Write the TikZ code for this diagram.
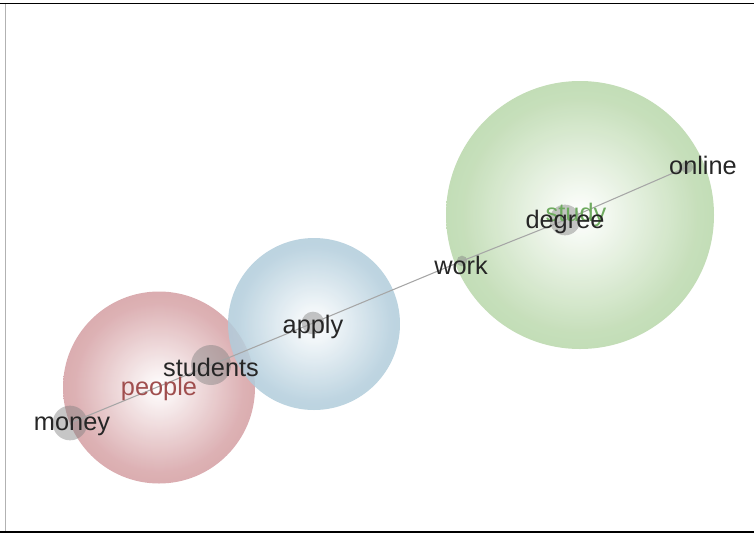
\documentclass[tikz,border=0pt]{standalone}
\usepackage{fontspec}
\setmainfont{Liberation Sans}
\definecolor{peoplered}{RGB}{196,122,127}
\definecolor{applyblue}{RGB}{140,180,202}
\definecolor{studygreen}{RGB}{158,200,138}
\definecolor{peopletext}{RGB}{160,78,78}
\definecolor{studytext}{RGB}{110,170,95}
\pgfdeclareradialshading{peopleball}{\pgfpoint{0bp}{0bp}}{color(0bp)=(white); color(22bp)=(peoplered!65!white); color(50bp)=(peoplered); color(100bp)=(peoplered)}
\pgfdeclareradialshading{applyball}{\pgfpoint{0bp}{0bp}}{color(0bp)=(white); color(22bp)=(applyblue!65!white); color(50bp)=(applyblue); color(100bp)=(applyblue)}
\pgfdeclareradialshading{studyball}{\pgfpoint{0bp}{0bp}}{color(0bp)=(white); color(22bp)=(studygreen!65!white); color(50bp)=(studygreen); color(100bp)=(studygreen)}
\tikzset{
  word/.style={font=\fontsize{19}{22}\selectfont, inner sep=0pt, text=black!85},
  dot/.style={circle, fill=gray, fill opacity=0.45, draw=none, inner sep=0pt, minimum size=#1}
}
\begin{document}
\begin{tikzpicture}[x=0.75pt, y=-0.75pt]
\useasboundingbox (0,0) rectangle (754,533);

\draw[black, line width=1.2pt] (0,3.5) -- (754,3.5);
\draw[black, line width=1.5pt] (0,531.5) -- (754,531.5);
\draw[gray!60, line width=0.8pt] (5.5,4) -- (5.5,531);

\shade[shading=peopleball, opacity=0.9] (159,387.5) circle [radius=96];
\shade[shading=applyball, opacity=0.85] (314,324) circle [radius=86];
\shade[shading=studyball, opacity=0.9] (580,215) circle [radius=134];

\node[dot=26pt] (money) at (70,423) {};
\node[dot=30pt] (students) at (211,365) {};
\node[dot=17pt] (apply) at (313,323) {};
\node[dot=8pt] (work) at (462,261) {};
\node[dot=23pt] (degree) at (565,220) {};
\node[dot=9pt] (online) at (687,167) {};

\draw[gray!70, line width=0.8pt] (money.center) -- (students.center) -- (apply.center)
  -- (work.center) -- (degree.center) -- (online.center);

\node[word, text=studytext] (study) at (576,215) {study};
\node[word, text=peopletext] (people) at (159,389) {people};
\node[word] (moneyw) at (72,426) {money};
\node[word] (studentsw) at (211,367) {students};
\node[word] (applyw) at (313,327) {apply};
\node[word] (workw) at (461,265) {work};
\node[word] (degreew) at (565,222) {degree};
\node[word] (onlinew) at (703,165) {online};
\end{tikzpicture}
\end{document}
